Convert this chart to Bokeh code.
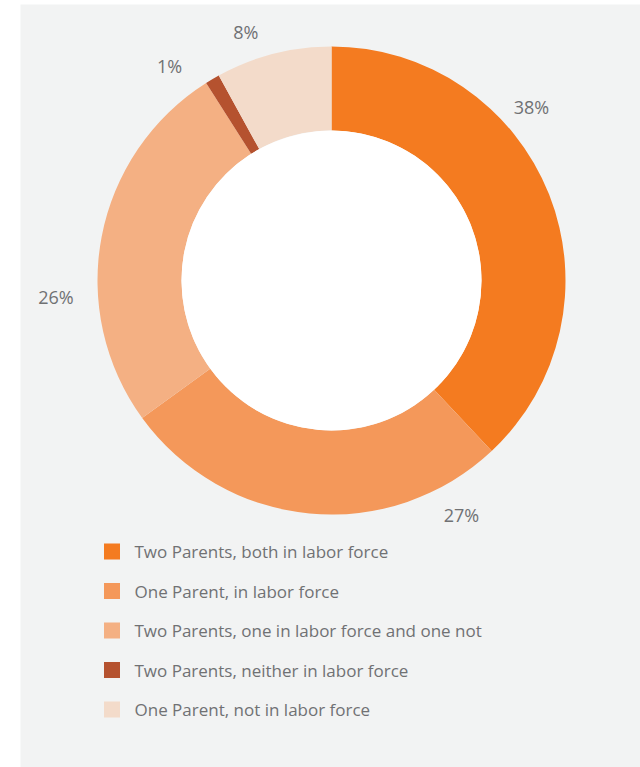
import math
from bokeh.plotting import figure
from bokeh.models import Range1d, ColumnDataSource
from bokeh.core.properties import value
from bokeh.embed import file_html
from bokeh.resources import INLINE

# ---- data ----
categories = [
    "Two Parents, both in labor force",
    "One Parent, in labor force",
    "Two Parents, one in labor force and one not",
    "Two Parents, neither in labor force",
    "One Parent, not in labor force",
]
shares = [38, 27, 26, 1, 8]
labels = ["38%", "27%", "26%", "1%", "8%"]

# ---- style / layout ----
colors = ["#F47B20", "#F4985A", "#F4B083", "#B5522F", "#F3DBCA"]
label_angle_deg = [49, 151, 266.5, 323, 341]
label_radius = [265, 268, 276, 269, 263]
W, H = 640, 767
PAD_L, PAD_T = 20, 4
cx, cy_screen = 331, 280
r_out, r_in = 234, 150
text_color = "#707173"

def sy(y_screen):
    return H - y_screen

p = figure(width=W, height=H, output_backend="svg", toolbar_location=None,
           x_range=Range1d(PAD_L, W), y_range=Range1d(0, H - PAD_T),
           min_border_left=PAD_L, min_border_top=PAD_T, min_border_right=0,
           min_border_bottom=0)
p.axis.visible = False
p.grid.visible = False
p.outline_line_color = None
p.background_fill_color = "#F2F3F3"
p.border_fill_color = "white"

total = float(sum(shares))
starts, ends = [], []
acc = 0.0
for s in shares:
    starts.append(math.pi / 2 - 2 * math.pi * acc / total)
    acc += s
    ends.append(math.pi / 2 - 2 * math.pi * acc / total)

src = ColumnDataSource(dict(start=starts, end=ends, color=colors,
                            x=[cx] * len(shares), y=[sy(cy_screen)] * len(shares)))
p.annular_wedge(x="x", y="y", inner_radius=r_in, outer_radius=r_out,
                start_angle="start", end_angle="end", direction="clock",
                fill_color="color", line_color=None, source=src)
p.circle(x=[cx], y=[sy(cy_screen)], radius=r_in, fill_color="white", line_color=None)

lx = [cx + r * math.sin(math.radians(a)) for a, r in zip(label_angle_deg, label_radius)]
ly = [sy(cy_screen) + r * math.cos(math.radians(a)) for a, r in zip(label_angle_deg, label_radius)]
p.text(x=lx, y=ly, text=labels, text_align="center", text_baseline="middle",
       text_font=value("Open Sans"), text_font_size="18px", text_color=text_color)

# legend
leg_y = [sy(551 + i * 39.5) for i in range(len(categories))]
p.rect(x=[111.5] * len(categories), y=leg_y, width=16, height=16,
       fill_color=colors, line_color=None)
p.text(x=[134] * len(categories), y=leg_y, text=categories, text_align="left",
       text_baseline="middle", text_font=value("Open Sans"), text_font_size="17px",
       text_color=text_color)

open("out.html", "w").write(file_html(p, INLINE))
